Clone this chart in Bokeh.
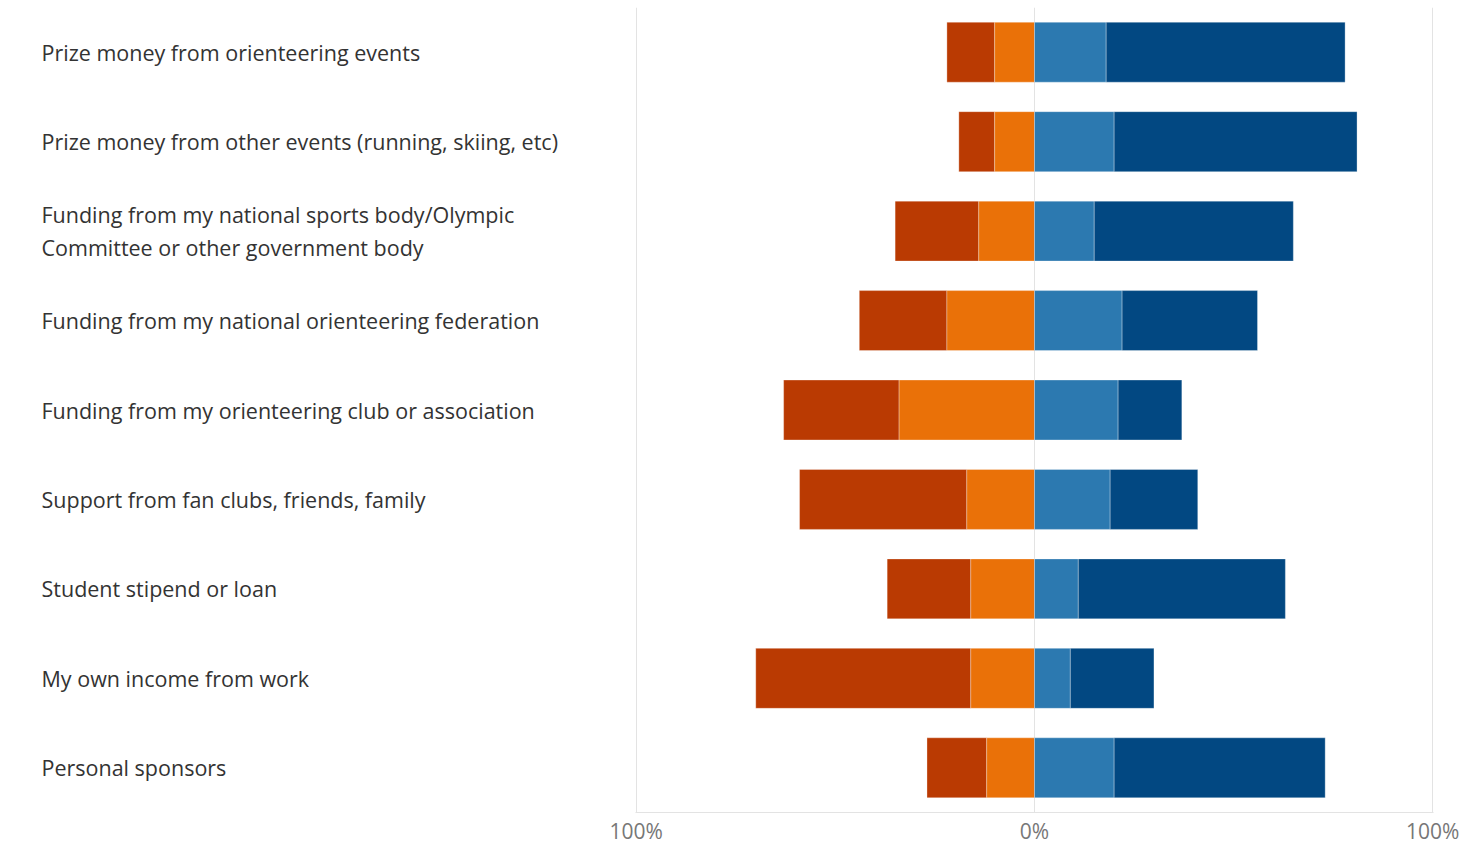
from bokeh.plotting import figure
from bokeh.layouts import row
from bokeh.models import FactorRange, Range1d, FixedTicker, ColumnDataSource
from bokeh.core.properties import value
from bokeh.embed import file_html
from bokeh.resources import INLINE

categories = [
    "Prize money from orienteering events",
    "Prize money from other events (running, skiing, etc)",
    "Funding from my national sports body/Olympic\nCommittee or other government body",
    "Funding from my national orienteering federation",
    "Funding from my orienteering club or association",
    "Support from fan clubs, friends, family",
    "Student stipend or loan",
    "My own income from work",
    "Personal sponsors",
]
strong_neg = [12, 9, 21, 22, 29, 42, 21, 54, 15]
weak_neg = [10, 10, 14, 22, 34, 17, 16, 16, 12]
weak_pos = [18, 20, 15, 22, 21, 19, 11, 9, 20]
strong_pos = [60, 61, 50, 34, 16, 22, 52, 21, 53]

tick_values = [-100, 0, 100]
tick_labels = {-100: "100%", 0: "0%", 100: "100%"}

colors = ["#BA3A02", "#EA7108", "#2C79B0", "#024882"]
FONT = "Open Sans"
TOP = 7
FRAME_H = 805
BOTTOM = 40
H = TOP + FRAME_H + BOTTOM

yr = FactorRange(factors=list(reversed(categories)), range_padding=0)

# label panel
lab = figure(width=605, height=H, y_range=yr, x_range=Range1d(0, 1),
             output_backend="svg", toolbar_location=None,
             min_border_left=0, min_border_right=0, min_border_top=TOP,
             min_border_bottom=BOTTOM)
lab.axis.visible = False
lab.grid.visible = False
lab.outline_line_color = None
lab.text(x=[0] * len(categories), y=categories, text=categories,
         x_offset=41, text_baseline="middle", text_align="left",
         text_font=value(FONT), text_font_size="21.5px", text_color="#333333",
         text_line_height=1.12)

# bars panel
p = figure(width=868, height=H, y_range=yr, x_range=Range1d(-100.2, 100.2),
           output_backend="svg", toolbar_location=None,
           min_border_left=30, min_border_right=40, min_border_top=TOP,
           min_border_bottom=BOTTOM)

neg_total = [a + b for a, b in zip(strong_neg, weak_neg)]
src = ColumnDataSource(dict(
    y=categories,
    sn_l=[-t for t in neg_total], sn_r=[-w for w in weak_neg],
    wn_l=[-w for w in weak_neg], zero=[0] * len(categories),
    wp_r=weak_pos, sp_r=[a + b for a, b in zip(weak_pos, strong_pos)],
))
bar_h = 0.67
p.hbar(y="y", left="sn_l", right="sn_r", height=bar_h, source=src,
       fill_color=colors[0], line_color="white", line_alpha=0.3)
p.hbar(y="y", left="wn_l", right="zero", height=bar_h, source=src,
       fill_color=colors[1], line_color="white", line_alpha=0.3)
p.hbar(y="y", left="zero", right="wp_r", height=bar_h, source=src,
       fill_color=colors[2], line_color="white", line_alpha=0.3)
p.hbar(y="y", left="wp_r", right="sp_r", height=bar_h, source=src,
       fill_color=colors[3], line_color="white", line_alpha=0.3)

p.yaxis.visible = False
p.ygrid.visible = False
p.outline_line_color = None
p.xaxis.ticker = FixedTicker(ticks=tick_values)
p.xgrid.ticker = FixedTicker(ticks=tick_values)
p.xgrid.grid_line_color = "#e3e3e3"
p.xgrid.level = "underlay"
p.xaxis.major_label_overrides = tick_labels
p.xaxis.axis_line_color = "#e3e3e3"
p.xaxis.major_tick_line_color = None
p.xaxis.minor_tick_line_color = None
p.xaxis.major_label_text_color = "#777777"
p.xaxis.major_label_text_font = FONT
p.xaxis.major_label_text_font_size = "21px"
p.xaxis.major_label_standoff = -2

layout = row(lab, p)
open("out.html", "w").write(file_html(layout, INLINE))
